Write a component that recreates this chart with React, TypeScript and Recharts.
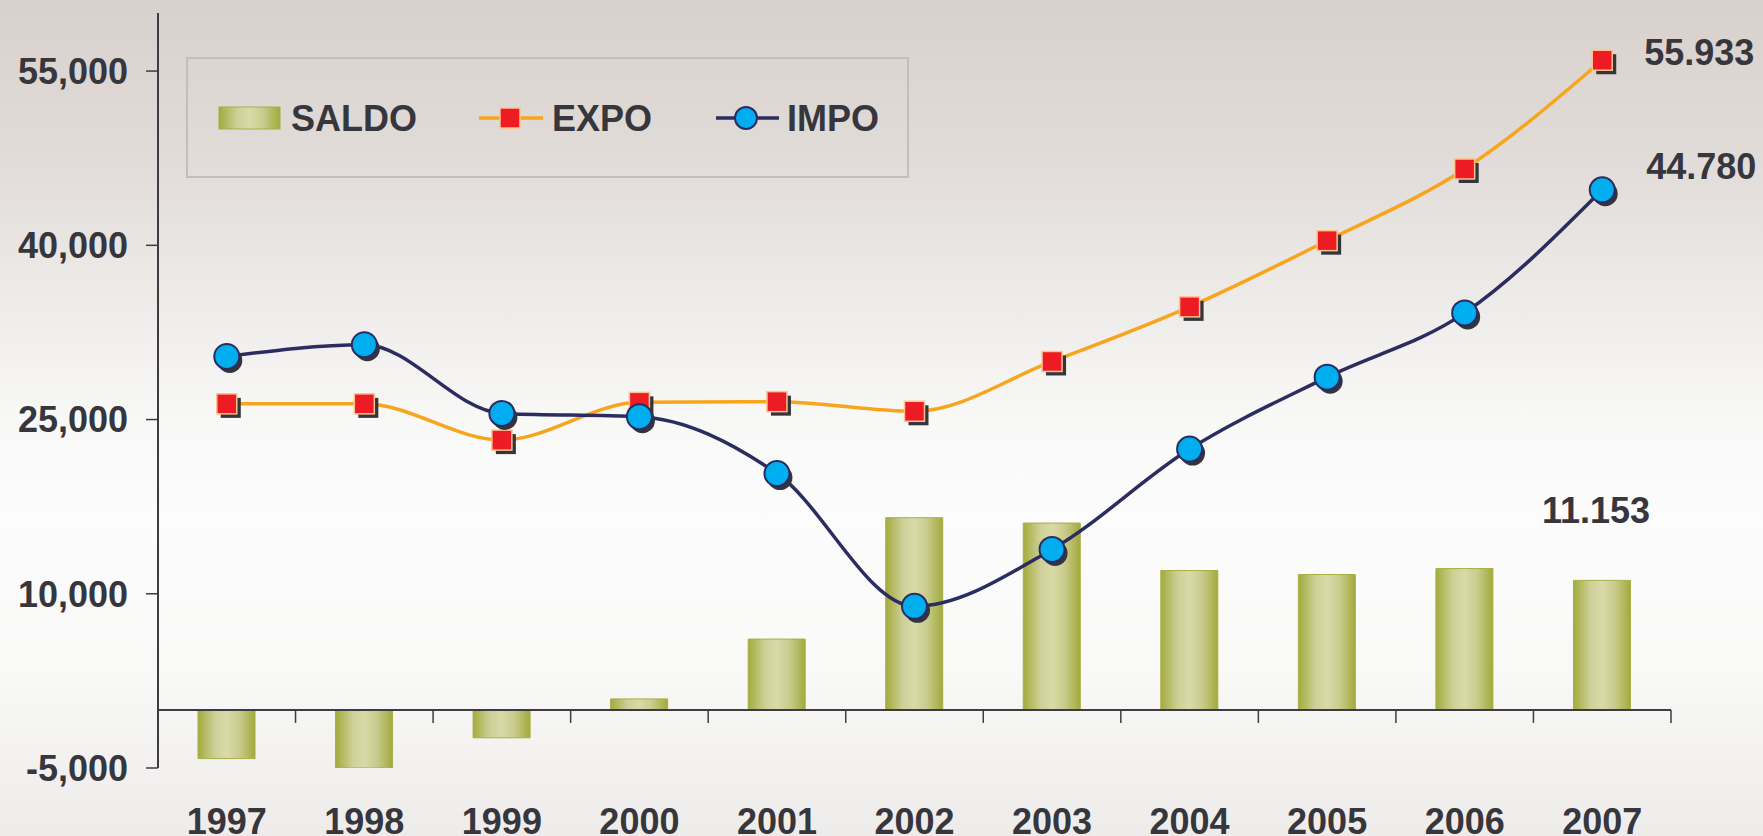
import React from 'react';
import {
  ComposedChart,
  Bar,
  Line,
  XAxis,
  YAxis,
  ReferenceLine,
  Legend,
  LabelList
} from 'recharts';

// values in thousands of units
const years = ['1997', '1998', '1999', '2000', '2001', '2002', '2003', '2004', '2005', '2006', '2007'];
const saldo = [-4190, -5000, -2400, 950, 6100, 16550, 16090, 12000, 11660, 12170, 11153];
const expo = [26350, 26350, 23230, 26480, 26540, 25710, 30000, 34700, 40400, 46570, 55933];
const impo = [30430, 31440, 25530, 25250, 20350, 8920, 13820, 22460, 28650, 34180, 44780];
const yTicks = [-5000, 10000, 25000, 40000, 55000];
const yDomain = [-5000, 60000];

const data = years.map((year, i) => ({ year, saldo: saldo[i], expo: expo[i], impo: impo[i] }));
const lastIdx = years.length - 1;

const FONT = '"Liberation Sans", Arial, Helvetica, sans-serif';
const TEXT = '#36363c';
const AXIS = '#3c3c42';

const fmtComma = (v: number) => v.toLocaleString('en-US');
const fmtDot = (v: number) => v.toLocaleString('en-US').replace(/,/g, '.');

const SquareDot = (props: any) => {
  const { cx, cy, index } = props;
  if (cx == null || cy == null) return null;
  return (
    <g key={`sq-${index}`}>
      <rect x={cx - 6} y={cy - 6} width={20} height={20} fill="#34343c" />
      <rect x={cx - 10} y={cy - 10} width={20} height={20} fill="#ed1c24" stroke="#fcc38c" strokeWidth={1.5} />
    </g>
  );
};

const CircleDot = (props: any) => {
  const { cx, cy, index } = props;
  if (cx == null || cy == null) return null;
  return (
    <g key={`ci-${index}`}>
      <circle cx={cx + 3} cy={cy + 4} r={12.5} fill="#34343f" />
      <circle cx={cx} cy={cy} r={12.5} fill="#00adef" stroke="#2b2c60" strokeWidth={2} />
    </g>
  );
};

const pointLabel = (p: any, dx: number, dy: number) => {
  if (p.index !== lastIdx) return null;
  return (
    <text x={p.x + dx} y={p.y + dy} fill={TEXT} fontSize={36} fontWeight="bold" fontFamily={FONT}>
      {fmtDot(p.value)}
    </text>
  );
};

const barLabel = (p: any) => {
  if (p.index !== lastIdx) return null;
  return (
    <text x={p.x + p.width / 2 - 6} y={p.y - 57} textAnchor="middle" fill={TEXT} fontSize={36} fontWeight="bold" fontFamily={FONT}>
      {fmtDot(p.value)}
    </text>
  );
};

// zero line with the category tick marks hanging below it
const ZeroAxis = (props: any) => {
  const { x1, x2, y1 } = props;
  const step = (x2 - x1) / years.length;
  const marks = [];
  for (let i = 0; i <= years.length; i++) {
    const x = x1 + i * step;
    marks.push(<line key={i} x1={x} x2={x} y1={y1} y2={y1 + 13} stroke={AXIS} strokeWidth={1.5} />);
  }
  return (
    <g>
      <line x1={x1} x2={x2} y1={y1} y2={y1} stroke={AXIS} strokeWidth={2} />
      {marks}
    </g>
  );
};

const LegendBox = () => (
  <svg width={723} height={121} style={{ display: 'block' }}>
    <defs>
      <linearGradient id="legSaldo" x1="0" y1="0" x2="1" y2="0">
        <stop offset="0%" stopColor="#a3ab3c" />
        <stop offset="30%" stopColor="#cdd097" />
        <stop offset="50%" stopColor="#d9daa8" />
        <stop offset="72%" stopColor="#c9cc8e" />
        <stop offset="100%" stopColor="#a2aa3b" />
      </linearGradient>
    </defs>
    <rect x={1} y={1} width={721} height={119} fill="none" stroke="#c5bdba" strokeWidth={2} />
    <rect x={33} y={50} width={61} height={22} fill="url(#legSaldo)" stroke="#a8ae45" strokeWidth={1} />
    <text x={105} y={74} fill={TEXT} fontSize={36} fontWeight="bold" fontFamily={FONT}>SALDO</text>
    <line x1={293} x2={357} y1={61} y2={61} stroke="#f7a51d" strokeWidth={3.5} />
    <rect x={314} y={51} width={20} height={20} fill="#ed1c24" stroke="#fcc38c" strokeWidth={1.5} />
    <text x={366} y={74} fill={TEXT} fontSize={36} fontWeight="bold" fontFamily={FONT}>EXPO</text>
    <line x1={530} x2={593} y1={61} y2={61} stroke="#2b2c60" strokeWidth={3.5} />
    <circle cx={560} cy={61} r={11} fill="#00adef" stroke="#2b2c60" strokeWidth={2} />
    <text x={601} y={74} fill={TEXT} fontSize={36} fontWeight="bold" fontFamily={FONT}>IMPO</text>
  </svg>
);

export default function App() {
  return (
    <div
      style={{
        position: 'absolute',
        left: 0,
        top: 0,
        width: 1763,
        height: 836,
        fontFamily: FONT,
        background:
          'linear-gradient(to bottom, #d8d0cd 0%, #e3dedb 22%, #efedeb 38%, #f8f8f7 50%, #fcfcfc 62%, #f9f9f8 80%, #f3f2f0 90%, #eeecea 100%)'
      }}
    >
      <ComposedChart width={1763} height={836} data={data} margin={{ top: 13, right: 92, bottom: 8, left: 0 }}>
        <defs>
          <linearGradient id="saldoFill" x1="0" y1="0" x2="1" y2="0">
            <stop offset="0%" stopColor="#a3ab3c" />
            <stop offset="30%" stopColor="#cdd097" />
            <stop offset="50%" stopColor="#d9daa8" />
            <stop offset="72%" stopColor="#c9cc8e" />
            <stop offset="100%" stopColor="#a2aa3b" />
          </linearGradient>
        </defs>
        <XAxis
          dataKey="year"
          height={60}
          axisLine={false}
          tickLine={false}
          tickSize={6}
          tickMargin={34}
          interval={0}
          tick={{ fontSize: 36, fontWeight: 'bold', fill: TEXT, fontFamily: FONT }}
        />
        <YAxis
          type="number"
          width={158}
          domain={yDomain}
          ticks={yTicks}
          interval={0}
          allowDataOverflow
          tickFormatter={fmtComma}
          axisLine={{ stroke: AXIS, strokeWidth: 2 }}
          tickLine={{ stroke: AXIS, strokeWidth: 1.5 }}
          tickSize={12}
          tickMargin={18}
          tick={{ fontSize: 36, fontWeight: 'bold', fill: TEXT, fontFamily: FONT }}
        />
        <Legend
          layout="horizontal"
          verticalAlign="middle"
          align="center"
          wrapperStyle={{ left: 186, top: 57, width: 723, height: 121 }}
          content={() => <LegendBox />}
        />
        <Bar dataKey="saldo" barSize={57} fill="url(#saldoFill)" stroke="#a8ae45" strokeWidth={1} isAnimationActive={false}>
          <LabelList dataKey="saldo" content={barLabel} />
        </Bar>
        <ReferenceLine y={0} shape={ZeroAxis} />
        <Line
          dataKey="expo"
          type="monotone"
          stroke="#f7a51d"
          strokeWidth={3.5}
          dot={SquareDot}
          activeDot={false}
          isAnimationActive={false}
        >
          <LabelList dataKey="expo" content={(p: any) => pointLabel(p, 42, 5)} />
        </Line>
        <Line
          dataKey="impo"
          type="monotone"
          stroke="#2b2c60"
          strokeWidth={3.5}
          dot={CircleDot}
          activeDot={false}
          isAnimationActive={false}
        >
          <LabelList dataKey="impo" content={(p: any) => pointLabel(p, 44, -11)} />
        </Line>
      </ComposedChart>
    </div>
  );
}
